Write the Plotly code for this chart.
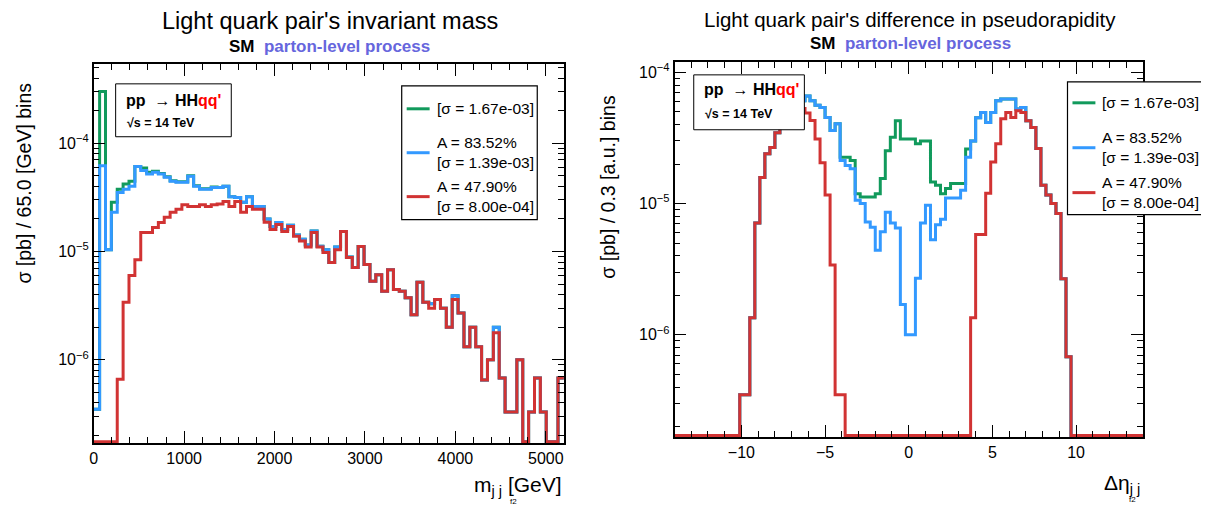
import math
import plotly.graph_objects as go

W, H = 1209, 507
OFF = 8  # page body margin of the html page
FONT = "Liberation Sans, Arial, Helvetica, sans-serif"

GREEN = "#119a5c"
BLUE = "#3399ff"
RED = "#d13333"

# ---- light quark pair invariant mass: 80 bins of 65 GeV from 0
MJJ_LO = 0.0
MJJ_BIN = 65.0
mjj_green = [3.5e-7, 3.0e-4, 1.04e-5, 2.85e-5, 3.75e-5, 4.2e-5, 4.45e-5, 6.1e-5, 5.9e-5, 5.4e-5,
             5.5e-5, 5.25e-5, 4.9e-5, 4.5e-5, 4.4e-5, 4.4e-5, 5.0e-5, 4.05e-5, 3.8e-5, 3.8e-5,
             3.95e-5, 3.9e-5, 4.0e-5, 3.2e-5, 3.15e-5, 2.85e-5, 3.2e-5, 2.6e-5, 2.6e-5, 2.0e-5,
             1.7e-5, 1.85e-5, 1.6e-5, 1.75e-5, 1.42e-5, 1.3e-5, 1.15e-5, 1.55e-5, 1.12e-5, 1.04e-5,
             7.9e-6, 1.1e-5, 1.53e-5, 8.9e-6, 7.1e-6, 1.11e-5, 7.6e-6, 5.3e-6, 6.1e-6, 4.3e-6,
             6.8e-6, 4.45e-6, 4.3e-6, 3.75e-6, 2.6e-6, 5.2e-6, 3.4e-6, 3.3e-6, 3.6e-6, 3.0e-6,
             2.0e-6, 3.9e-6, 2.7e-6, 1.32e-6, 2.0e-6, 1.32e-6, 6.5e-7, 1.0e-6, 2.0e-6, 6.8e-7,
             3.3e-7, 3.3e-7, 1.0e-6, 0, 3.3e-7, 6.8e-7, 3.3e-7, 0, 0, 6.8e-7]
mjj_blue = [3.5e-7, 6.2e-5, 1.04e-5, 2.3e-5, 3.5e-5, 3.75e-5, 4.0e-5, 6.1e-5, 5.6e-5, 5.2e-5,
            5.4e-5, 5.2e-5, 4.85e-5, 4.45e-5, 4.35e-5, 4.35e-5, 4.95e-5, 4.0e-5, 3.75e-5, 3.75e-5,
            3.9e-5, 3.9e-5, 4.0e-5, 3.2e-5, 3.15e-5, 2.85e-5, 3.2e-5, 2.6e-5, 2.6e-5, 2.0e-5,
            1.7e-5, 1.85e-5, 1.6e-5, 1.75e-5, 1.42e-5, 1.3e-5, 1.15e-5, 1.55e-5, 1.12e-5, 1.04e-5,
            7.9e-6, 1.1e-5, 1.53e-5, 8.9e-6, 7.1e-6, 1.11e-5, 7.6e-6, 5.3e-6, 6.1e-6, 4.3e-6,
            6.8e-6, 4.45e-6, 4.3e-6, 3.75e-6, 2.6e-6, 5.2e-6, 3.4e-6, 3.3e-6, 3.6e-6, 3.0e-6,
            2.0e-6, 3.9e-6, 2.7e-6, 1.32e-6, 2.0e-6, 1.32e-6, 6.5e-7, 1.0e-6, 2.0e-6, 6.8e-7,
            3.3e-7, 3.3e-7, 1.0e-6, 0, 3.3e-7, 6.8e-7, 3.3e-7, 0, 0, 6.8e-7]
mjj_red = [0, 0, 0, 0, 6.6e-7, 3.4e-6, 6.0e-6, 8.4e-6, 1.5e-5, 1.5e-5,
           1.67e-5, 1.85e-5, 2.07e-5, 2.3e-5, 2.45e-5, 2.7e-5, 2.6e-5, 2.6e-5, 2.7e-5, 2.6e-5,
           2.7e-5, 2.75e-5, 2.9e-5, 2.6e-5, 2.9e-5, 2.3e-5, 2.6e-5, 2.45e-5, 2.45e-5, 1.86e-5,
           1.6e-5, 1.78e-5, 1.53e-5, 1.7e-5, 1.38e-5, 1.25e-5, 1.1e-5, 1.5e-5, 1.1e-5, 9.8e-6,
           7.9e-6, 1.04e-5, 1.53e-5, 8.8e-6, 7.1e-6, 1.11e-5, 7.6e-6, 5.3e-6, 6.1e-6, 4.3e-6,
           6.8e-6, 4.45e-6, 4.3e-6, 3.75e-6, 2.6e-6, 5.2e-6, 3.4e-6, 3.0e-6, 3.6e-6, 3.0e-6,
           2.0e-6, 3.6e-6, 2.7e-6, 1.32e-6, 2.0e-6, 1.32e-6, 6.5e-7, 1.0e-6, 1.78e-6, 6.8e-7,
           3.3e-7, 3.3e-7, 1.0e-6, 0, 3.3e-7, 6.8e-7, 3.3e-7, 0, 0, 6.8e-7]

# ---- light quark pair delta eta: bins of 0.3 from -14
DETA_LO = -14.0
DETA_BIN = 0.3
deta_green = [0] * 13 + [
    3.5e-7, 3.5e-7, 1.35e-6, 7.1e-6, 1.58e-5, 2.4e-5, 2.67e-5, 3.46e-5, 3.8e-5, 4.9e-5,
    5.25e-5, 5.7e-5, 6.07e-5, 6.6e-5, 6.07e-5, 5.6e-5, 5.4e-5, 4.53e-5, 3.6e-5, 4.05e-5,
    2.25e-5, 2.25e-5, 2.13e-5, 1.19e-5, 1.12e-5, 1.12e-5, 1.12e-5, 1.19e-5, 1.55e-5, 2.53e-5,
    3.2e-5, 4.28e-5, 3.1e-5, 3.1e-5, 3.1e-5, 2.85e-5, 3.0e-5, 3.0e-5, 1.46e-5, 1.38e-5,
    1.19e-5, 1.3e-5, 1.42e-5, 1.42e-5, 1.42e-5, 2.6e-5, 3.0e-5, 4.5e-5, 4.95e-5, 4.15e-5,
    4.95e-5, 6.07e-5, 6.25e-5, 6.25e-5, 6.25e-5, 5.25e-5, 5.4e-5, 4.28e-5, 3.8e-5, 2.63e-5,
    1.38e-5, 1.16e-5, 1.0e-5, 8.4e-6, 2.67e-6, 6.8e-7] + [0] * 15
deta_blue = [0] * 13 + [
    3.5e-7, 3.5e-7, 1.35e-6, 7.1e-6, 1.58e-5, 2.4e-5, 2.67e-5, 3.46e-5, 3.8e-5, 4.9e-5,
    5.25e-5, 5.7e-5, 6.07e-5, 6.6e-5, 6.07e-5, 5.6e-5, 5.4e-5, 4.53e-5, 3.6e-5, 4.05e-5,
    2.13e-5, 1.95e-5, 1.84e-5, 1.06e-5, 1.0e-5, 7.25e-6, 6.6e-6, 4.4e-6, 6.1e-6, 8.6e-6,
    7.1e-6, 6.5e-6, 1.7e-6, 1.0e-6, 1.0e-6, 2.7e-6, 7.1e-6, 9.7e-6, 5.3e-6, 6.9e-6,
    7.6e-6, 1.1e-5, 1.1e-5, 1.1e-5, 1.26e-5, 2.25e-5, 3.0e-5, 4.5e-5, 4.95e-5, 4.15e-5,
    4.95e-5, 6.07e-5, 6.25e-5, 6.25e-5, 6.25e-5, 5.25e-5, 5.4e-5, 4.28e-5, 3.8e-5, 2.63e-5,
    1.38e-5, 1.16e-5, 1.0e-5, 8.4e-6, 2.67e-6, 6.8e-7] + [0] * 15
deta_red = [0] * 13 + [
    3.5e-7, 3.5e-7, 1.35e-6, 7.1e-6, 1.58e-5, 2.4e-5, 2.67e-5, 3.46e-5, 3.8e-5, 4.67e-5,
    4.9e-5, 5.0e-5, 5.3e-5, 4.9e-5, 4.3e-5, 3.1e-5, 2.05e-5, 1.16e-5, 3.4e-6, 3.5e-7,
    3.5e-7] + [0] * 25 + [
    1.35e-6, 5.8e-6, 5.8e-6, 1.2e-5, 2.07e-5, 2.86e-5, 4.43e-5, 4.94e-5, 4.53e-5, 5.1e-5,
    4.94e-5, 4.28e-5, 3.8e-5, 2.63e-5, 1.38e-5, 1.16e-5, 1.0e-5, 8.4e-6, 2.67e-6, 6.8e-7] + [0] * 15

legend_labels = ["[\u03c3 = 1.67e-03]",
                 "A = 83.52%<br>[\u03c3 = 1.39e-03]",
                 "A = 47.90%<br>[\u03c3 = 8.00e-04]"]

MJJ_YRANGE = (1.7e-7, 5.4e-4)
DETA_YRANGE = (1.66e-7, 1.2e-4)


def step_xy(lo, width, vals, floor):
    xs = [lo + width * i for i in range(len(vals) + 1)]
    ys = [v if v > 0 else floor for v in vals]
    return xs, ys + [ys[-1]]


# screen pixel -> paper fraction
def px(x):
    return (x - OFF) / W


def py(y):
    return 1 - (y - OFF) / H


fig = go.Figure()

panels = [
    ("x", "y", MJJ_LO, MJJ_BIN, [mjj_green, mjj_blue, mjj_red], MJJ_YRANGE),
    ("x2", "y2", DETA_LO, DETA_BIN, [deta_green, deta_blue, deta_red], DETA_YRANGE),
]
for xa, ya, lo, bw, series, yr in panels:
    for vals, col in zip(series, [GREEN, BLUE, RED]):
        xs, ys = step_xy(lo, bw, vals, yr[0] * 1.03)
        fig.add_trace(go.Scatter(x=xs, y=ys, mode="lines", line_shape="hv",
                                 line=dict(color=col, width=3),
                                 xaxis=xa, yaxis=ya, showlegend=False, hoverinfo="skip"))

axis_common = dict(showline=True, linecolor="black", linewidth=1.5, mirror="allticks",
                   ticks="inside", ticklen=12, tickwidth=1.2, tickcolor="black",
                   showgrid=False, zeroline=False,
                   tickfont=dict(family=FONT, size=16, color="black"))


def log_minor(lo, hi):
    vals = []
    for e in range(int(math.floor(math.log10(lo))), int(math.ceil(math.log10(hi))) + 1):
        for m in range(2, 10):
            v = m * 10 ** e
            if lo <= v <= hi:
                vals.append(v)
    return vals


def log_major(lo, hi):
    out = []
    for e in range(int(math.floor(math.log10(lo))), int(math.ceil(math.log10(hi))) + 1):
        if lo <= 10 ** e <= hi:
            out.append(e)
    return [10 ** e for e in out], ["10<sup>\u2212%d</sup>" % (-e) for e in out]


LEFT_X = [px(90), px(561.7)]
RIGHT_X = [px(672.7), px(1142.7)]

for idx, (yr, dom_y) in enumerate([(MJJ_YRANGE, [py(443), py(63)]),
                                   (DETA_YRANGE, [py(437), py(61)])]):
    tv, tt = log_major(*yr)
    yname = "yaxis" if idx == 0 else "yaxis2"
    fig.layout[yname] = dict(axis_common, type="log",
                             range=[math.log10(yr[0]), math.log10(yr[1])],
                             tickvals=tv, ticktext=tt, domain=dom_y,
                             anchor="x" if idx == 0 else "x2",
                             minor=dict(ticks="inside", ticklen=6, tickcolor="black",
                                        tickwidth=1.2, tickmode="array",
                                        tickvals=log_minor(*yr)))

fig.update_layout(
    xaxis=dict(axis_common, range=[0, 5200], tickvals=[0, 1000, 2000, 3000, 4000, 5000],
               domain=LEFT_X, anchor="y",
               minor=dict(ticks="inside", ticklen=6, tickcolor="black", tickwidth=1.2,
                          dtick=200, tick0=0)),
    xaxis2=dict(axis_common, range=[-14, 14], tickvals=[-10, -5, 0, 5, 10],
                ticktext=["\u221210", "\u22125", "0", "5", "10"],
                domain=RIGHT_X, anchor="y2",
                minor=dict(ticks="inside", ticklen=6, tickcolor="black", tickwidth=1.2,
                           dtick=1, tick0=0)),
    width=W, height=H, margin=dict(l=0, r=0, t=0, b=0),
    paper_bgcolor="white", plot_bgcolor="white", showlegend=False,
    font=dict(family=FONT, color="black"),
)

ann = []
shapes = []


def text(x, y, s, size, xanchor="center", yanchor="middle", angle=0, color="black", align="center"):
    ann.append(dict(x=px(x), y=py(y), xref="paper", yref="paper", text=s, showarrow=False,
                    xanchor=xanchor, yanchor=yanchor, textangle=angle, align=align,
                    font=dict(family=FONT, size=size, color=color)))


sub = "<b>SM</b>  <b><span style='color:#6666dd'>parton-level process</span></b>"
# titles
text(327, 20, "Light quark pair's invariant mass", 23.5)
text(327, 46, sub, 17)
text(909, 19, "Light quark pair's difference in pseudorapidity", 20.5)
text(909, 43, sub, 17)

# axis titles
text(20, 182, "\u03c3 [pb] / 65.0 [GeV] bins", 19.5, angle=-90)
text(606, 186, "\u03c3 [pb] / 0.3 [a.u.] bins", 19.5, angle=-90)
text(562, 486, "m<sub>j j</sub> [GeV]", 21, xanchor="right")
text(506, 501, "f2", 8, xanchor="left")
text(1142, 484, "\u0394\u03b7<sub>j j</sub>", 21, xanchor="right")
text(1127, 499, "f2", 8, xanchor="left")

# process boxes
proc = "<b>pp  \u2192 HH<span style='color:#ff0000'>qq'</span></b>"
for (x0, y0, x1, y1, l1, l2) in [(112, 83, 228, 136, 100, 122), (692, 74, 803, 129, 89, 113)]:
    shapes.append(dict(type="rect", xref="paper", yref="paper", x0=px(x0), x1=px(x1),
                       y0=py(y1), y1=py(y0), line=dict(color="black", width=1),
                       fillcolor="white", layer="above"))
    text(x0 + 8, l1, proc, 16, xanchor="left")
    text(x0 + 9, l2, "<b>\u221as = 14 TeV</b>", 12.5, xanchor="left")

# legends
for (x0, y0, x1, y1, ly) in [(399, 85, 535, 219, [108, 152, 196]),
                             (1067, 81, 1204, 214, [102, 147, 192])]:
    shapes.append(dict(type="rect", xref="paper", yref="paper", x0=px(x0), x1=px(x1),
                       y0=py(y1), y1=py(y0), line=dict(color="black", width=1.2),
                       fillcolor="white", layer="above"))
    for yy, col, lab in zip(ly, [GREEN, BLUE, RED], legend_labels):
        shapes.append(dict(type="line", xref="paper", yref="paper", x0=px(x0 + 5),
                           x1=px(x0 + 28), y0=py(yy), y1=py(yy),
                           line=dict(color=col, width=3), layer="above"))
        text(x0 + 33, yy, lab, 15.5, xanchor="left", align="left")

fig.update_layout(annotations=ann, shapes=shapes)
fig.write_html("out.html")
